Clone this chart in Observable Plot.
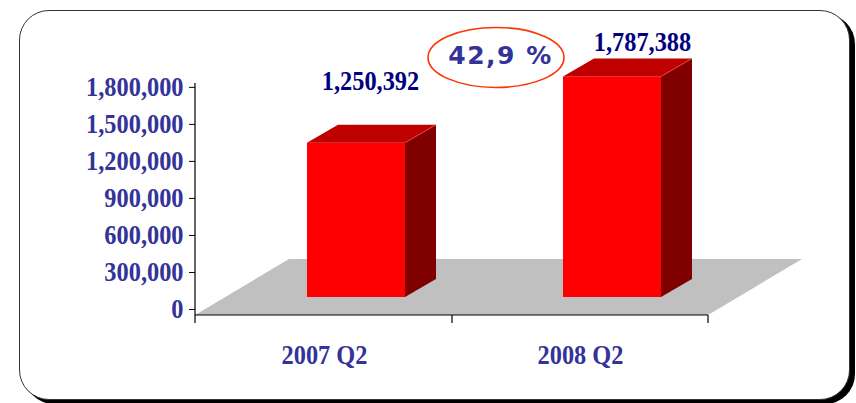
<!DOCTYPE html>
<html><head><meta charset="utf-8">
<script src="https://cdn.jsdelivr.net/npm/d3@7"></script>
<script src="https://cdn.jsdelivr.net/npm/@observablehq/plot@0.6"></script>
<style>
html,body{margin:0;padding:0;background:#fff;}
#wrap{position:relative;width:856px;height:403px;overflow:hidden;}
#box{position:absolute;left:19px;top:10px;width:831px;height:390px;box-sizing:border-box;border:1.5px solid #333;border-radius:30px;box-shadow:5px 4px 0 #000;background:#fff;}
#chart{position:absolute;left:0;top:0;}
.pct text{letter-spacing:1.5px;}
</style></head><body>
<div id="wrap"><div id="box"></div><div id="chart"></div></div>
<script>
const categories = ["2007 Q2", "2008 Q2"];
const values = [1250392, 1787388];
const yTicks = [0, 300000, 600000, 900000, 1200000, 1500000, 1800000];
const growthLabel = "42,9 %";
const yMax = 1880000;

const data = categories.map((c, i) => ({category: c, value: values[i]}));
const fmt = d3.format(",");

// 3D geometry (pixels)
const INSET = 79, SHIFT_X = 32, SHIFT_Y = -18;   // bar front face offset
const DEPTH_X = 31, DEPTH_Y = -18;               // bar depth
const FLOOR_X = 94, FLOOR_Y = -56;               // floor depth

function floorMark(index, scales, channels, dim) {
  const {x, y} = scales;
  const x0 = dim.marginLeft, x1 = dim.width - dim.marginRight, y0 = y(0);
  const g = d3.create("svg:g");
  g.append("polygon")
    .attr("points", [[x0, y0], [x1, y0], [x1 + FLOOR_X, y0 + FLOOR_Y], [x0 + FLOOR_X, y0 + FLOOR_Y]].map(p => p.join(",")).join(" "))
    .attr("fill", "#c0c0c0");
  return g.node();
}

function axesMark(index, scales, channels, dim) {
  const {x, y} = scales;
  const bw = x.bandwidth();
  const x0 = dim.marginLeft, x1 = dim.width - dim.marginRight, y0 = y(0);
  const g = d3.create("svg:g").attr("stroke", "#000").attr("stroke-width", 1.2);
  g.append("line").attr("x1", x0).attr("x2", x1).attr("y1", y0).attr("y2", y0);
  g.append("line").attr("x1", x0).attr("x2", x0).attr("y1", y(yMax)).attr("y2", y0 + 8);
  for (const c of categories) {
    const xe = x(c) + bw;
    g.append("line").attr("x1", xe).attr("x2", xe).attr("y1", y0).attr("y2", y0 + 8);
  }
  return g.node();
}

function facesMark(index, scales, channels, dim) {
  const {x, y} = scales;
  const bw = x.bandwidth();
  const g = d3.create("svg:g");
  const pts = a => a.map(p => p.join(",")).join(" ");
  for (const d of data) {
    const xl = x(d.category) + INSET + SHIFT_X;
    const xr = x(d.category) + bw - INSET + SHIFT_X;
    const yt = y(d.value) + SHIFT_Y;
    const yb = y(0) + SHIFT_Y;
    g.append("polygon")
      .attr("points", pts([[xr, yb], [xr, yt], [xr + DEPTH_X, yt + DEPTH_Y], [xr + DEPTH_X, yb + DEPTH_Y]]))
      .attr("fill", "#800000");
    g.append("polygon")
      .attr("points", pts([[xl, yt], [xl + DEPTH_X, yt + DEPTH_Y], [xr + DEPTH_X, yt + DEPTH_Y], [xr, yt]]))
      .attr("fill", "#bf0000");
    g.append("line")
      .attr("x1", xr).attr("y1", yt).attr("x2", xr + DEPTH_X).attr("y2", yt + DEPTH_Y)
      .attr("stroke", "#ff5050").attr("stroke-width", 0.6);
  }
  // ellipse around growth label
  const cx = x(categories[1]) + bw / 2 - 84;
  const cy = y(values[1]) - 37;
  g.append("ellipse").attr("cx", cx).attr("cy", cy).attr("rx", 68).attr("ry", 30)
    .attr("fill", "none").attr("stroke", "#ff3300").attr("stroke-width", 1.6);
  return g.node();
}

const textStyle = {fontSize: 28, fontWeight: "bold", fontFamily: "Liberation Serif"};

const chart = Plot.plot({
  width: 856,
  height: 403,
  marginTop: 83,
  marginBottom: 88,
  marginLeft: 195,
  marginRight: 148,
  style: {fontFamily: "Liberation Serif", background: "transparent", overflow: "visible"},
  x: {type: "band", domain: categories, padding: 0},
  y: {domain: [0, yMax]},
  marks: [
    floorMark,
    axesMark,
    Plot.barY(data, {x: "category", y: "value", fill: "#ff0000", insetLeft: INSET, insetRight: INSET, dx: SHIFT_X, dy: SHIFT_Y}),
    facesMark,
    Plot.axisY({ticks: yTicks, tickFormat: fmt, tickSize: 6, tickPadding: 6, stroke: "#000", fill: "#333399", dy: -6, label: null, ...textStyle}),
    Plot.axisX({tickSize: 0, tickPadding: 29, fill: "#333399", label: null, ...textStyle}),
    Plot.text([data[0]], {x: "category", y: "value", text: d => fmt(d.value), dx: 46, dy: -70.7, lineAnchor: "bottom", fill: "#000080", ...textStyle}),
    Plot.text([data[1]], {x: "category", y: "value", text: d => fmt(d.value), dx: 62, dy: -44.4, lineAnchor: "bottom", fill: "#000080", ...textStyle}),
    Plot.text([data[1]], {x: "category", y: "value", text: () => growthLabel, dx: -80, dy: -39, lineAnchor: "middle", fill: "#333399", fontSize: 25, fontWeight: "bold", fontFamily: "DejaVu Sans", className: "pct"})
  ]
});

// condense the serif lettering horizontally, as in the original
d3.select(chart).selectAll("text").each(function () {
  if (this.closest(".pct")) return;
  const t = this.getAttribute("transform") || "";
  this.setAttribute("transform", (t + " scale(0.87,1)").trim());
});

document.getElementById("chart").appendChild(chart);
</script>
</body></html>
